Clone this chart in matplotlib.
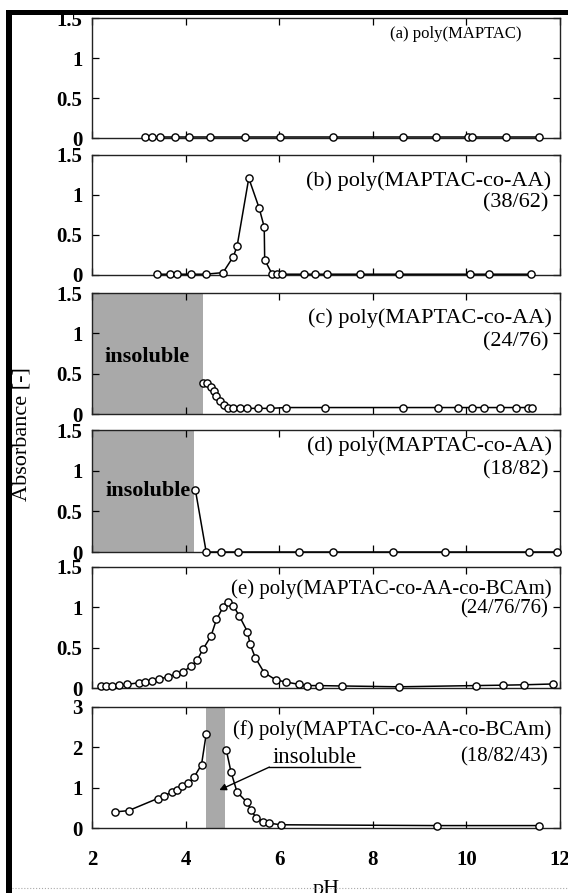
import matplotlib
matplotlib.use("Agg")
import matplotlib.pyplot as plt
from matplotlib.patches import Rectangle
from matplotlib.lines import Line2D

plt.rcParams['font.family'] = ['Liberation Serif', 'DejaVu Serif']

# ---------------- data ----------------
a_ph = [3.13, 3.28, 3.45, 3.78, 4.07, 4.53, 5.27, 6.01, 7.16, 8.65, 9.36, 10.04, 10.13, 10.85, 11.56]
a_abs = [0.01, 0.01, 0.01, 0.01, 0.01, 0.01, 0.01, 0.01, 0.01, 0.01, 0.01, 0.01, 0.01, 0.01, 0.01]

b_ph = [3.38, 3.66, 3.82, 4.12, 4.43, 4.80, 5.02, 5.10, 5.35, 5.57, 5.68, 5.69, 5.85, 5.96,
        6.05, 6.52, 6.77, 7.02, 7.72, 8.56, 10.08, 10.48, 11.38]
b_abs = [0.01, 0.01, 0.01, 0.01, 0.01, 0.03, 0.23, 0.36, 1.21, 0.84, 0.60, 0.19, 0.01, 0.01,
         0.01, 0.01, 0.01, 0.01, 0.01, 0.01, 0.01, 0.01, 0.01]

c_ph = [4.38, 4.46, 4.54, 4.60, 4.66, 4.73, 4.81, 4.90, 5.02, 5.16, 5.31, 5.54, 5.81, 6.15,
        6.97, 8.65, 9.40, 9.82, 10.13, 10.37, 10.72, 11.05, 11.32, 11.40]
c_abs = [0.39, 0.38, 0.34, 0.28, 0.22, 0.16, 0.11, 0.08, 0.07, 0.07, 0.07, 0.07, 0.07, 0.08,
         0.08, 0.08, 0.08, 0.08, 0.08, 0.08, 0.08, 0.08, 0.08, 0.08]
c_insoluble = (2.0, 4.37)

d_ph = [4.21, 4.44, 4.75, 5.13, 6.42, 7.14, 8.44, 9.54, 11.34, 11.93]
d_abs = [0.76, 0.0, 0.0, 0.0, 0.0, 0.0, 0.0, 0.0, 0.0, 0.0]
d_insoluble = (2.0, 4.17)

e_ph = [2.20, 2.30, 2.43, 2.57, 2.75, 3.00, 3.14, 3.28, 3.44, 3.62, 3.79, 3.94, 4.12, 4.25,
        4.37, 4.54, 4.66, 4.80, 4.90, 5.02, 5.15, 5.32, 5.38, 5.49, 5.68, 5.93, 6.14, 6.42,
        6.60, 6.84, 7.34, 8.56, 10.20, 10.78, 11.24, 11.86]
e_abs = [0.02, 0.025, 0.03, 0.035, 0.045, 0.065, 0.08, 0.09, 0.11, 0.14, 0.17, 0.20, 0.27, 0.35,
         0.48, 0.64, 0.85, 1.00, 1.06, 1.02, 0.89, 0.70, 0.54, 0.375, 0.19, 0.10, 0.075, 0.045,
         0.03, 0.03, 0.025, 0.015, 0.03, 0.035, 0.04, 0.05]

f_ph_low = [2.50, 2.78, 3.40, 3.53, 3.72, 3.82, 3.93, 4.06, 4.18, 4.34, 4.44]
f_abs_low = [0.40, 0.43, 0.73, 0.80, 0.89, 0.93, 1.04, 1.11, 1.26, 1.57, 2.33]
f_ph_high = [4.87, 4.97, 5.10, 5.31, 5.40, 5.51, 5.66, 5.79, 6.03, 9.37, 11.56]
f_abs_high = [1.93, 1.39, 0.89, 0.64, 0.44, 0.25, 0.16, 0.12, 0.08, 0.06, 0.06]
f_insoluble = (4.43, 4.84)

x_ticks = [2, 4, 6, 8, 10, 12]
y_ticks = [0, 0.5, 1, 1.5]
y_ticklabels = ["0", "0.5", "1", "1.5"]
f_y_ticks = [0, 1, 2, 3]
f_y_ticklabels = ["0", "1", "2", "3"]

titles = [
    ("(a) poly(MAPTAC)", None),
    ("(b) poly(MAPTAC-co-AA)", "(38/62)"),
    ("(c) poly(MAPTAC-co-AA)", "(24/76)"),
    ("(d) poly(MAPTAC-co-AA)", "(18/82)"),
    ("(e) poly(MAPTAC-co-AA-co-BCAm)", "(24/76/76)"),
    ("(f) poly(MAPTAC-co-AA-co-BCAm)", "(18/82/43)"),
]
title_sizes = [12, 16, 16, 16, 15, 15]

# ---------------- layout ----------------
W, H = 568, 893
fig = plt.figure(figsize=(W / 100, H / 100), dpi=100)
left_px, right_px = 92, 560
panels_px = [(18, 138), (155, 275), (293, 414), (430, 552), (567, 688), (707, 828)]
title_y = [(0.87, None), (0.78, 0.60), (0.79, 0.60), (0.87, 0.67), (0.82, 0.65), (0.81, 0.59)]

axes = []
for (top, bot) in panels_px:
    ax = fig.add_axes([left_px / W, 1 - bot / H, (right_px - left_px) / W, (bot - top) / H])
    axes.append(ax)

shade_col = '#a9a9a9'
mk = dict(marker='o', ms=5.2, mfc='white', mec='black', mew=1.0, color='black', lw=1.1,
          clip_on=False, zorder=3)

series = [(a_ph, a_abs), (b_ph, b_abs), (c_ph, c_abs), (d_ph, d_abs), (e_ph, e_abs)]
for i, ax in enumerate(axes):
    ax.set_xlim(2, 12)
    if i < 5:
        ax.set_ylim(0, 1.5)
        ax.set_yticks(y_ticks)
        ax.set_yticklabels(y_ticklabels)
        ax.plot(series[i][0], series[i][1], **mk)
    else:
        ax.set_ylim(0, 3)
        ax.set_yticks(f_y_ticks)
        ax.set_yticklabels(f_y_ticklabels)
        ax.plot(f_ph_low, f_abs_low, **mk)
        ax.plot(f_ph_high, f_abs_high, **mk)
    ax.set_xticks(x_ticks)
    ax.tick_params(direction='in', length=5, width=0.9, top=True, right=True,
                   labelsize=15, pad=7, colors='black')
    ax.tick_params(axis='x', pad=16)
    if i < 5:
        ax.tick_params(axis='x', labelbottom=False)
    for lab in ax.get_yticklabels() + ax.get_xticklabels():
        lab.set_fontweight('bold')
    for sp in ax.spines.values():
        sp.set_linewidth(1.0)
        sp.set_color('#222222')

    t1, t2 = titles[i]
    y1, y2 = title_y[i]
    fs = title_sizes[i]
    xr = 0.918 if i == 0 else 0.982
    ax.text(xr, y1, t1, transform=ax.transAxes, ha='right', va='center', fontsize=fs)
    if t2:
        ax.text(0.975, y2, t2, transform=ax.transAxes, ha='right', va='center', fontsize=fs)

# insoluble regions
axes[2].axvspan(c_insoluble[0], c_insoluble[1], color=shade_col, zorder=1, lw=0)
axes[2].text(3.18, 0.71, "insoluble", ha='center', va='center', fontsize=16, fontweight='bold')
axes[3].axvspan(d_insoluble[0], d_insoluble[1], color=shade_col, zorder=1, lw=0)
axes[3].text(4.1, 0.75, "insoluble", ha='right', va='center', fontsize=16, fontweight='bold')
axf = axes[5]
axf.axvspan(f_insoluble[0], f_insoluble[1], color=shade_col, zorder=1, lw=0)
axf.text(6.75, 1.74, "insoluble", ha='center', va='center', fontsize=16.5)
axf.add_line(Line2D([5.79, 7.72], [1.51, 1.51], color='black', lw=1.0))
axf.annotate("", xy=(4.72, 0.94), xytext=(5.79, 1.51),
             arrowprops=dict(arrowstyle='-|>', color='black', lw=1.0,
                             mutation_scale=10, shrinkA=0, shrinkB=0))

# axis labels
fig.text(22 / W, 1 - 434 / H, "Absorbance [-]", rotation=90, ha='center', va='center', fontsize=16)
fig.text(326 / W, 1 - 894 / H, "pH", ha='center', va='baseline', fontsize=16)

# scanned frame borders
fig.add_artist(Rectangle((6 / W, 0), 6 / W, 1 - 10 / H, transform=fig.transFigure,
                         color='black', lw=0, zorder=5))
fig.add_artist(Rectangle((6 / W, 1 - 15 / H), 1, 5 / H, transform=fig.transFigure,
                         color='black', lw=0, zorder=5))
fig.add_artist(Line2D([12 / W, 1], [1 - 888 / H, 1 - 888 / H], transform=fig.transFigure,
                      color='#aaaaaa', lw=0.8, ls=':', zorder=5))

fig.savefig("out.png", dpi=100)
